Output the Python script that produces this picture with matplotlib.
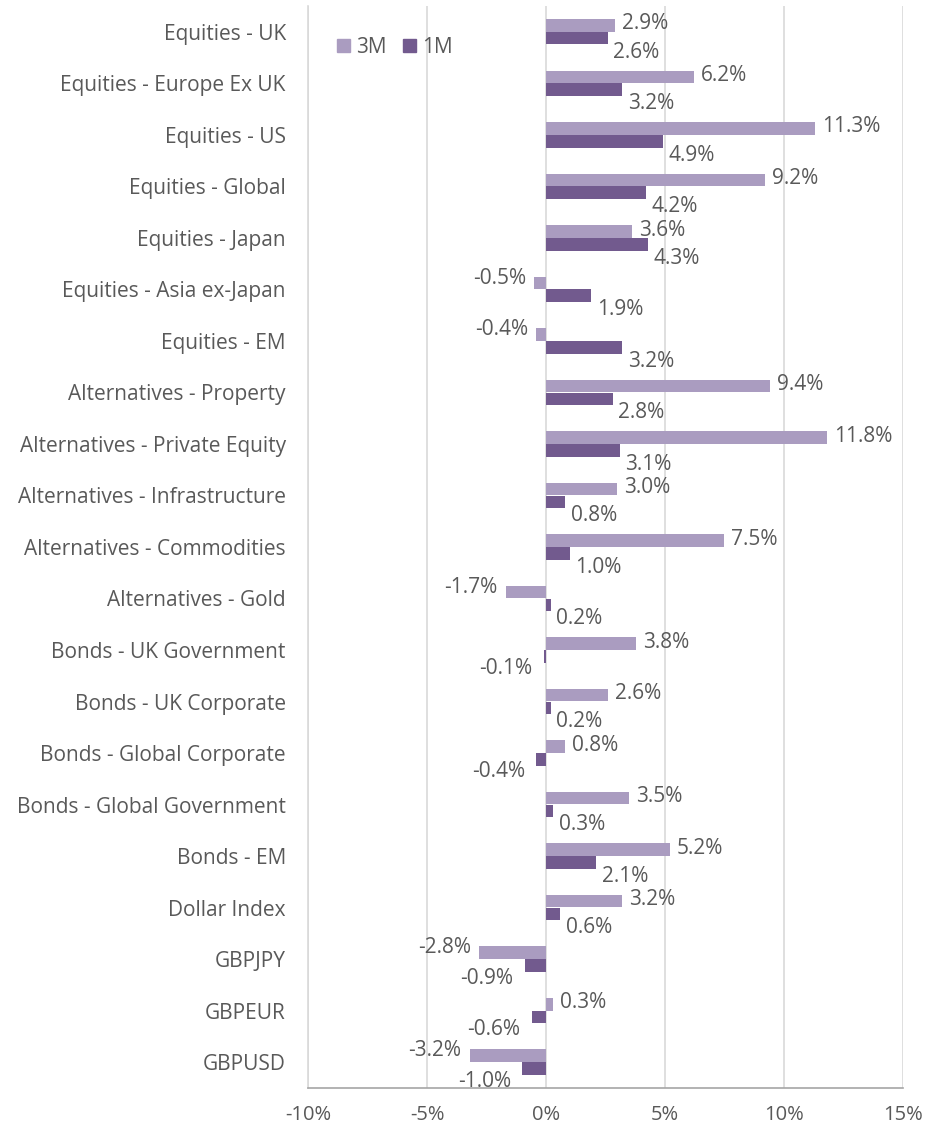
import matplotlib
matplotlib.use("Agg")
import matplotlib.pyplot as plt
from matplotlib.ticker import FuncFormatter, FixedLocator
from matplotlib.patches import Patch

categories = ["Equities - UK", "Equities - Europe Ex UK", "Equities - US", "Equities - Global",
              "Equities - Japan", "Equities - Asia ex-Japan", "Equities - EM",
              "Alternatives - Property", "Alternatives - Private Equity",
              "Alternatives - Infrastructure", "Alternatives - Commodities", "Alternatives - Gold",
              "Bonds - UK Government", "Bonds - UK Corporate", "Bonds - Global Corporate",
              "Bonds - Global Government", "Bonds - EM", "Dollar Index", "GBPJPY", "GBPEUR", "GBPUSD"]
m3 = [2.9, 6.2, 11.3, 9.2, 3.6, -0.5, -0.4, 9.4, 11.8, 3.0, 7.5, -1.7, 3.8, 2.6, 0.8, 3.5, 5.2, 3.2, -2.8, 0.3, -3.2]
m1 = [2.6, 3.2, 4.9, 4.2, 4.3, 1.9, 3.2, 2.8, 3.1, 0.8, 1.0, 0.2, -0.1, 0.2, -0.4, 0.3, 2.1, 0.6, -0.9, -0.6, -1.0]
xticks = [-10, -5, 0, 5, 10, 15]

c3 = "#AA9CC0"
c1 = "#725A8E"
tc = "#595959"
plt.rcParams['font.family'] = ['Open Sans', 'DejaVu Sans']

fig = plt.figure(figsize=(9.4, 11.28), dpi=100)
ax = fig.add_axes([0.3277, 0.0355, 0.6329, 0.9592])

n = len(categories)
ys = list(range(n))
h = 0.245
y3 = [y - 0.125 for y in ys]
y1 = [y + 0.125 for y in ys]
ax.barh(y3, m3, height=h, color=c3, zorder=3)
ax.barh(y1, m1, height=h, color=c1, zorder=3)

ax.set_xlim(-10, 15)
ax.set_ylim(n - 0.5, -0.5)
ax.xaxis.set_major_locator(FixedLocator(xticks))
ax.xaxis.set_major_formatter(FuncFormatter(lambda v, p: f"{v:.0f}%"))
ax.set_yticks(ys)
ax.set_yticklabels(categories)
ax.tick_params(axis='y', length=0, pad=16, labelsize=15, labelcolor=tc)
ax.tick_params(axis='x', length=0, pad=12, labelsize=14.5, labelcolor=tc)
ax.grid(axis='x', color="#D9D9D9", linewidth=1.2, zorder=0)
for s in ['top', 'right']:
    ax.spines[s].set_visible(False)
ax.spines['left'].set_color("#D9D9D9")
ax.spines['left'].set_linewidth(1.2)
ax.spines['bottom'].set_color("#A6A6A6")
ax.spines['bottom'].set_linewidth(1.2)

fs = 15
for y, v in zip(y3, m3):
    if v >= 0:
        ax.annotate(f"{v:.1f}%", (v, y), xytext=(5, 1), textcoords='offset points',
                    ha='left', va='center', fontsize=fs, color=tc)
    else:
        ax.annotate(f"{v:.1f}%", (v, y), xytext=(-6, 3.5), textcoords='offset points',
                    ha='right', va='center', fontsize=fs, color=tc)
for y, v in zip(y1, m1):
    if v >= 0:
        ax.annotate(f"{v:.1f}%", (v, y), xytext=(4, -10), textcoords='offset points',
                    ha='left', va='center', fontsize=fs, color=tc)
    else:
        ax.annotate(f"{v:.1f}%", (v, y), xytext=(-8, -9), textcoords='offset points',
                    ha='right', va='center', fontsize=fs, color=tc)

handles = [Patch(color=c3, label="3M"), Patch(color=c1, label="1M")]
leg = ax.legend(handles=handles, loc='center left', bbox_to_anchor=(0.035, 0.962), ncol=2,
                frameon=False, fontsize=15, handlelength=0.6, handleheight=0.6,
                handletextpad=0.3, columnspacing=0.8, borderaxespad=0)
for t in leg.get_texts():
    t.set_color(tc)

fig.savefig("out.png", dpi=100)
